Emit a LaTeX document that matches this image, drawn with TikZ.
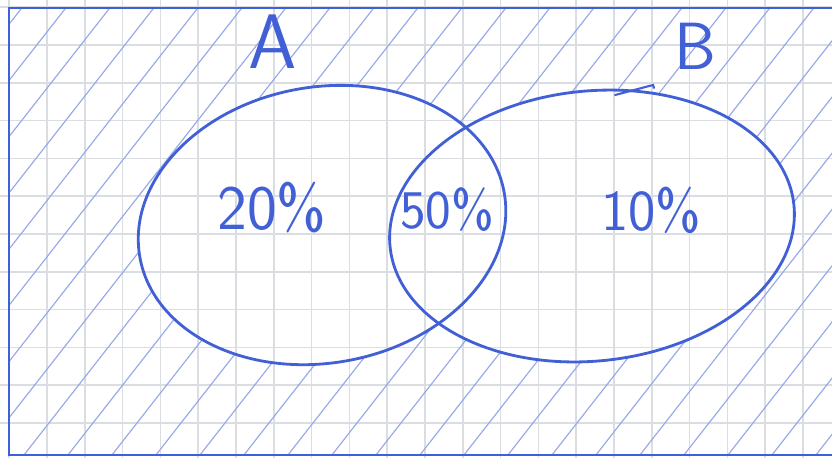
\documentclass[tikz,border=0pt]{standalone}
\usepackage{tikz}
\usetikzlibrary{positioning}
\definecolor{penblue}{RGB}{66,96,214}
\definecolor{gridgray}{RGB}{218,221,226}
\tikzset{
    pen/.style={draw=penblue, line width=1.6pt, line cap=round},
    hatch/.style={draw=penblue!55, line width=0.65pt},
    gridline/.style={draw=gridgray, line width=0.9pt},
    setlabel/.style={text=penblue, font=\sffamily\fontsize{44}{44}\selectfont},
    share/.style={text=penblue, font=\sffamily\fontsize{36}{36}\selectfont}
}

\begin{document}
\begin{tikzpicture}[x=0.02cm, y=-0.02cm]
    \useasboundingbox (0,0) rectangle (832,458);
    \fill[white] (0,0) rectangle (832,458);

    % grid of the paper
    \foreach \i in {0,...,21} \draw[gridline] (9.2+37.8*\i,0) -- (9.2+37.8*\i,458);
    \foreach \j in {0,...,12} \draw[gridline] (0,7.2+37.8*\j) -- (832,7.2+37.8*\j);

    % corners and centres
    \coordinate (tl) at (9,8);
    \coordinate (tr) at (840,8);
    \coordinate (bl) at (9,455);
    \coordinate (br) at (840,455);
    \coordinate (cA) at (322,225);
    \coordinate (cB) at (592,226);

    % hatching outside A and B
    \begin{scope}[even odd rule]
        \clip (tl) rectangle (br);
        \clip (-1000,-1000) rectangle (2000,2000)
            [rotate around={10:(cA)}] (cA) ellipse [x radius=185, y radius=138];
        \clip (-1000,-1000) rectangle (2000,2000)
            [rotate around={6:(cB)}] (cB) ellipse [x radius=203, y radius=135];
        \foreach \x in {-420,-376,...,830} \draw[hatch] (\x,460) -- (\x+360,0);
    \end{scope}

    % frame
    \draw[pen] (tr) -- (tl) -- (bl) -- (br);

    % sets
    \draw[pen, rotate around={10:(cA)}] (cA) ellipse [x radius=185, y radius=138];
    \draw[pen, rotate around={6:(cB)}] (cB) ellipse [x radius=203, y radius=135];
    \draw[pen, line width=1.2pt] (615,95) -- (653,85) -- (654,88);

    % labels
    \node[setlabel] (labA) at (273,42) {A};
    \node[setlabel, font=\sffamily\fontsize{38}{38}\selectfont] (labB) at (695,46) {B};
    \node[share] (onlyA) at (272,208) {20\%};
    \node[share, font=\sffamily\fontsize{31}{31}\selectfont] (both) at (447,210) {50\%};
    \node[share, font=\sffamily\fontsize{33}{33}\selectfont] (onlyB) at (651,210) {10\%};
\end{tikzpicture}
\end{document}
